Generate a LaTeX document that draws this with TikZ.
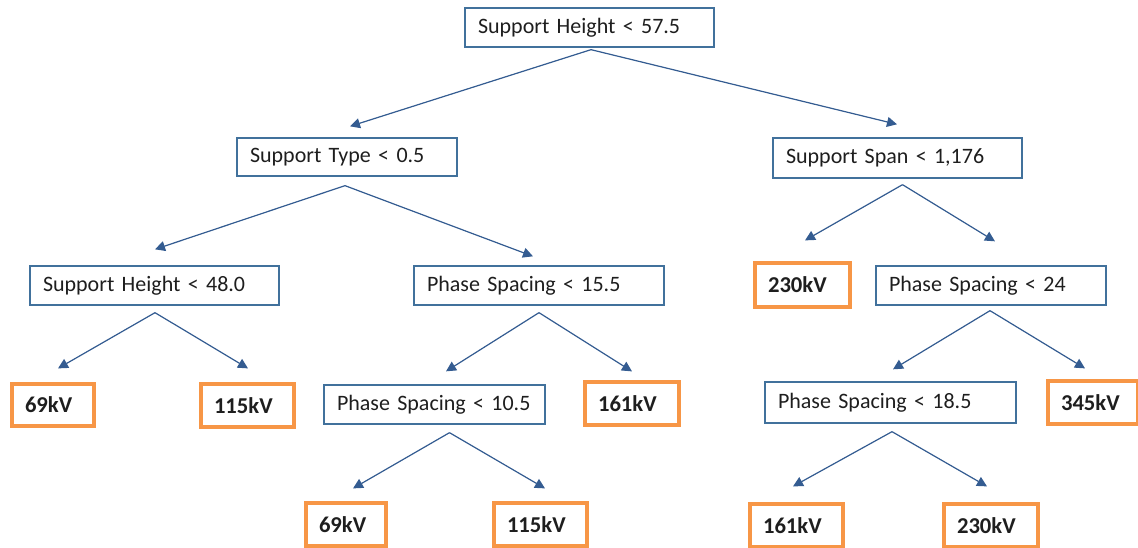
\documentclass[tikz,border=0pt]{standalone}
\usepackage{fontspec}
\setmainfont{Carlito}
\usetikzlibrary{arrows.meta,calc}
\definecolor{boxblue}{RGB}{65,113,156}
\definecolor{arrblue}{RGB}{52,92,145}
\definecolor{leaforange}{RGB}{247,150,70}
\definecolor{txt}{RGB}{30,30,30}
\tikzset{
  split/.style={draw=boxblue, line width=1pt, inner xsep=0pt, inner ysep=0pt, align=left,
    font=\fontsize{16.5}{19}\selectfont, text=txt},
  leaf/.style={draw=leaforange, line width=2.4pt, inner xsep=0pt, inner ysep=0pt, align=left,
    font=\fontsize{17}{19}\selectfont\bfseries, text=txt},
  arr/.style={draw=arrblue, line width=0.9pt, -{Triangle[length=7.5pt,width=7.5pt]}, fill=arrblue},
}
\begin{document}
\begin{tikzpicture}[x=0.75pt,y=-0.75pt]
\useasboundingbox (0,0) rectangle (1138,548);
% split nodes
\node[split, minimum width=186.75pt, minimum height=29.25pt, text width=167.25pt] (r) at (589.5,27.5) {Support Height < 57.5};
\node[split, minimum width=165pt, minimum height=28.5pt, text width=145.5pt] (st) at (347,157) {Support Type < 0.5};
\node[split, minimum width=186.75pt, minimum height=30pt, text width=167.25pt] (ss) at (897.5,158) {Support Span < 1,176};
\node[split, minimum width=186.75pt, minimum height=29.25pt, text width=167.25pt] (sh) at (154.5,285.5) {Support Height < 48.0};
\node[split, minimum width=187.5pt, minimum height=29.25pt, text width=168pt] (pa) at (539,285.5) {Phase Spacing < 15.5};
\node[split, minimum width=172.5pt, minimum height=29.25pt, text width=153pt] (pb) at (991,285.5) {Phase Spacing < 24};
\node[split, minimum width=165.75pt, minimum height=29.25pt, text width=146.25pt] (pc) at (434.5,404.5) {Phase Spacing < 10.5};
\node[split, minimum width=188.25pt, minimum height=30.75pt, text width=168.75pt] (pd) at (890.5,402.5) {Phase Spacing < 18.5};
% leaves
\node[leaf, minimum width=71.25pt, minimum height=33pt, text width=51.75pt] (la) at (802.5,285) {230kV};
\node[leaf, minimum width=61.5pt, minimum height=31.5pt, text width=42pt] (lb) at (53,405) {69kV};
\node[leaf, minimum width=69.75pt, minimum height=32.25pt, text width=50.25pt] (lc) at (247.5,405.5) {115kV};
\node[leaf, minimum width=70.5pt, minimum height=32.25pt, text width=51pt] (ld) at (632,403.5) {161kV};
\node[leaf, minimum width=67.5pt, minimum height=32.25pt, text width=48pt] (le) at (1093,402.5) {345kV};
\node[leaf, minimum width=60pt, minimum height=32.25pt, text width=40.5pt] (lf) at (346,524.5) {69kV};
\node[leaf, minimum width=69.75pt, minimum height=32.25pt, text width=50.25pt] (lg) at (540.5,524.5) {115kV};
\node[leaf, minimum width=69.75pt, minimum height=32.25pt, text width=50.25pt] (lh) at (796.5,525.5) {161kV};
\node[leaf, minimum width=70.5pt, minimum height=32.25pt, text width=51pt] (li) at (991,525.5) {230kV};
% connectors
\draw[arr] ($(r.south)+(1.5,2)$) -- ($(st.north)+(3,-11)$);
\draw[arr] ($(r.south)+(1.5,2)$) -- ($(ss.north)+(-0.5,-13)$);
\draw[arr] ($(st.south)+(-2,9)$) -- ($(sh.north)+(0.5,-16)$);
\draw[arr] ($(st.south)+(-2,9)$) -- ($(pa.north)+(-6,-9)$);
\draw[arr] ($(ss.south)+(5,6)$) -- ($(la.north)+(2.5,-21)$);
\draw[arr] ($(ss.south)+(5,6)$) -- ($(pb.north)+(4,-24)$);
\draw[arr] ($(sh.south)+(0.5,7)$) -- ($(lb.north)+(5,-14)$);
\draw[arr] ($(sh.south)+(0.5,7)$) -- ($(lc.north)+(0.5,-14)$);
\draw[arr] ($(pa.south)+(0,7)$) -- ($(pc.north)+(11.5,-13)$);
\draw[arr] ($(pa.south)+(0,7)$) -- ($(ld.north)+(0,-9)$);
\draw[arr] ($(pb.south)+(-1,5)$) -- ($(pd.north)+(2.5,-12)$);
\draw[arr] ($(pb.south)+(-1,5)$) -- ($(le.north)+(-8,-11)$);
\draw[arr] ($(pc.south)+(15,8)$) -- ($(lf.north)+(7,-13)$);
\draw[arr] ($(pc.south)+(15,8)$) -- ($(lg.north)+(4.5,-13)$);
\draw[arr] ($(pd.south)+(1.5,8)$) -- ($(lh.north)+(-3.5,-16)$);
\draw[arr] ($(pd.south)+(1.5,8)$) -- ($(li.north)+(-4,-16)$);
\end{tikzpicture}
\end{document}
